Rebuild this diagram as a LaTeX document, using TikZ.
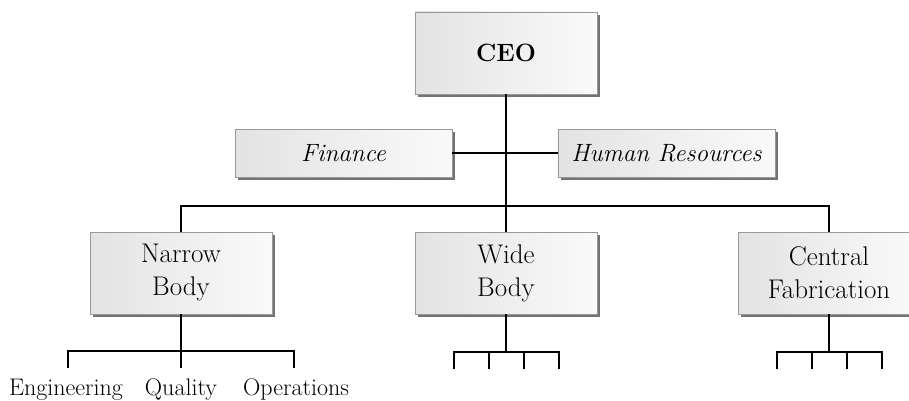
\documentclass[tikz,border=0pt]{standalone}
\usetikzlibrary{shadows}
\begin{document}
\begin{tikzpicture}[x=1pt,y=-1pt,line width=2pt,
		unit/.style={draw=black!40,line width=0.6pt,left color=black!11,right color=black!2,
			drop shadow={shadow xshift=3pt,shadow yshift=-3pt,opacity=1,fill=black!55},
			minimum width=182pt,minimum height=82pt,inner sep=0pt,align=center,
			font=\fontsize{27}{33}\selectfont},
		staff/.style={unit,minimum width=217pt,minimum height=48pt,font=\fontsize{25}{30}\selectfont\itshape},
		dept/.style={font=\fontsize{24}{28}\selectfont,anchor=base,inner xsep=0pt,inner ysep=9.5pt}]
	\clip (0,0) rectangle (909,401);
	\node[unit,font=\fontsize{25}{30}\selectfont\bfseries] (ceo) at (506,53) {CEO};
	\node[staff] (fin) at (343.5,153) {Finance};
	\node[staff] (hr) at (666.5,153) {Human Resources};
	\node[unit] (narrow) at (181,273) {Narrow\\Body};
	\node[unit] (wide) at (506,273) {Wide\\Body};
	\node[unit] (central) at (829,273) {Central\\Fabrication};
	\node[dept] (eng) at (66,395) {Engineering};
	\node[dept] (qual) at (181,395) {Quality};
	\node[dept] (ops) at (296,395) {Operations};
	\coordinate (bar) at (0,206);
	\draw (ceo) -- (wide);
	\draw (fin) -- (hr);
	\draw (narrow.north) |- (bar -| central) -- (central.north);
	\draw (narrow.south) -- (qual.north);
	\draw (eng.north -| 68,0) -- ++(0,-17) -| (ops.north -| 294,0);
	\foreach \u in {wide,central}{
		\draw (\u.south) -- ++(0,38) coordinate (\u-bar);
		\draw (\u-bar) ++(-52.5,17) -- ++(0,-17) -- ++(105,0) -- ++(0,17);
		\draw (\u-bar) ++(-17.5,0) -- ++(0,17) (\u-bar) ++(17.5,0) -- ++(0,17);
	}
\end{tikzpicture}
\end{document}
